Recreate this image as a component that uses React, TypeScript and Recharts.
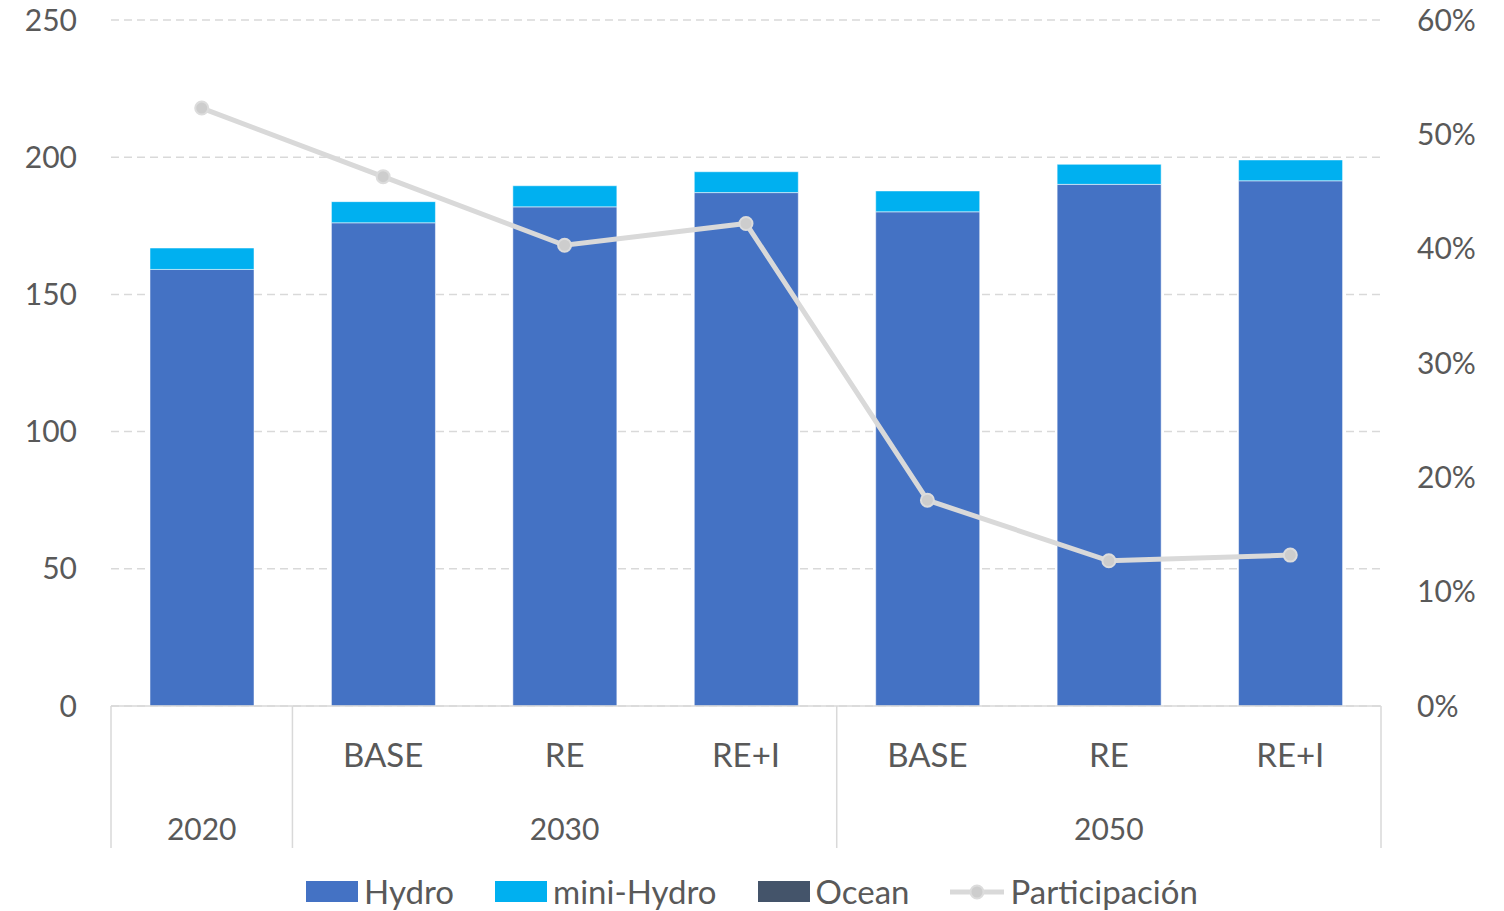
import React from 'react';
import { ComposedChart, Bar, Line, XAxis, YAxis, CartesianGrid, Legend } from 'recharts';

// Two-level category axis: year group + scenario
const years = ['2020', '2030', '2030', '2030', '2050', '2050', '2050'];
const scenarios = ['', 'BASE', 'RE', 'RE+I', 'BASE', 'RE', 'RE+I'];

// Stacked generation (left axis)
const hydro = [159.1, 176.1, 181.9, 187.1, 180.1, 190.1, 191.4];
const miniHydro = [7.8, 7.7, 7.7, 7.6, 7.6, 7.3, 7.6];
const ocean = [0, 0, 0, 0, 0, 0, 0];

// Share (right axis)
const participacion = [0.523, 0.463, 0.403, 0.422, 0.18, 0.127, 0.132];

const leftTicks = [0, 50, 100, 150, 200, 250];
const rightTicks = [0, 0.1, 0.2, 0.3, 0.4, 0.5, 0.6];

const seriesNames = ['Hydro', 'mini-Hydro', 'Ocean', 'Participación'];

const data = years.map((year, i) => ({
  key: `${year}-${scenarios[i] || 'hist'}`,
  hydro: hydro[i],
  miniHydro: miniHydro[i],
  ocean: ocean[i],
  participacion: participacion[i],
}));

const CHART_W = 1504;
const CHART_H = 911;
const LEFT_W = 111;
const RIGHT_W = 123;
const X_AXIS_H = 142;
const LEGEND_H = 63;
const BAND = (CHART_W - LEFT_W - RIGHT_W) / years.length;

const TEXT = '#595959';
const RULE = '#D9D9D9';

const groupBounds = (i: number) => {
  let s = i;
  while (s > 0 && years[s - 1] === years[i]) s--;
  let e = i;
  while (e < years.length - 1 && years[e + 1] === years[i]) e++;
  return [s, e];
};

const CategoryTick = (props: any) => {
  const { x, y, index } = props;
  const half = BAND / 2;
  const [s, e] = groupBounds(index);
  const isMid = index === Math.floor((s + e) / 2);
  return (
    <g>
      {index === s && (
        <line x1={x - half} x2={x - half} y1={y} y2={y + X_AXIS_H} stroke={RULE} strokeWidth={1.5} />
      )}
      {index === years.length - 1 && (
        <line x1={x + half} x2={x + half} y1={y} y2={y + X_AXIS_H} stroke={RULE} strokeWidth={1.5} />
      )}
      <text x={x} y={y + 48} textAnchor="middle" dominantBaseline="central" fill={TEXT} fontSize={33}>
        {scenarios[index]}
      </text>
      {isMid && (
        <text x={x} y={y + 122} textAnchor="middle" dominantBaseline="central" fill={TEXT} fontSize={30}>
          {years[index]}
        </text>
      )}
    </g>
  );
};

const LegendContent = (props: any) => {
  const payload = [...(props.payload || [])].sort(
    (a: any, b: any) => seriesNames.indexOf(a.value) - seriesNames.indexOf(b.value)
  );
  return (
    <div
      style={{
        height: LEGEND_H,
        boxSizing: 'border-box',
        paddingTop: 24,
        display: 'flex',
        justifyContent: 'center',
        alignItems: 'center',
      }}
    >
      {payload.map((entry: any, i: number) => (
        <div
          key={entry.value}
          style={{ display: 'flex', alignItems: 'center', marginRight: i < payload.length - 1 ? 41 : 0 }}
        >
          {entry.type === 'line' ? (
            <svg width={54} height={22} style={{ marginRight: 6 }}>
              <line x1={0} x2={54} y1={11} y2={11} stroke={RULE} strokeWidth={5} />
              <circle cx={27} cy={11} r={6.5} fill="#CDCDCD" stroke="#DCDCDC" strokeWidth={2} />
            </svg>
          ) : (
            <div style={{ width: 52, height: 21, background: entry.color, marginRight: 6 }} />
          )}
          <span style={{ color: TEXT, fontSize: 33, lineHeight: '39px' }}>{entry.value}</span>
        </div>
      ))}
    </div>
  );
};

const App = () => {
  return (
    <div style={{ position: 'absolute', left: 0, top: 0, fontFamily: 'Lato, sans-serif', background: '#fff' }}>
      <ComposedChart
        width={CHART_W}
        height={CHART_H}
        data={data}
        margin={{ top: 20, right: 0, bottom: 0, left: 0 }}
        barSize={104}
      >
        <CartesianGrid vertical={false} stroke={RULE} strokeDasharray="8 5" strokeWidth={1.5} />
        <XAxis
          dataKey="key"
          height={X_AXIS_H}
          interval={0}
          tickSize={0}
          tickMargin={0}
          axisLine={{ stroke: RULE, strokeWidth: 1.5 }}
          tickLine={false}
          tick={<CategoryTick />}
        />
        <YAxis
          width={LEFT_W}
          domain={[0, 250]}
          ticks={leftTicks}
          axisLine={false}
          tickLine={false}
          tickSize={0}
          tickMargin={34}
          tick={{ fill: TEXT, fontSize: 30 }}
        />
        <YAxis
          yAxisId="right"
          orientation="right"
          width={RIGHT_W}
          domain={[0, 0.6]}
          ticks={rightTicks}
          axisLine={false}
          tickLine={false}
          tickSize={0}
          tickMargin={36}
          tick={{ fill: TEXT, fontSize: 30 }}
          tickFormatter={(v: number) => `${Math.round(v * 100)}%`}
        />
        <Legend verticalAlign="bottom" content={<LegendContent />} />
        <Bar dataKey="hydro" name="Hydro" stackId="gen" fill="#4472C4" stroke="#ffffff" strokeWidth={0.5} legendType="rect" isAnimationActive={false} />
        <Bar dataKey="miniHydro" name="mini-Hydro" stackId="gen" fill="#00B0F0" stroke="#ffffff" strokeWidth={0.5} legendType="rect" isAnimationActive={false} />
        <Bar dataKey="ocean" name="Ocean" stackId="gen" fill="#44546A" legendType="rect" isAnimationActive={false} />
        <Line
          yAxisId="right"
          type="linear"
          dataKey="participacion"
          name="Participación"
          stroke={RULE}
          strokeWidth={5}
          dot={{ r: 6.5, fill: '#CDCDCD', stroke: '#DCDCDC', strokeWidth: 2 }}
          activeDot={false}
          legendType="line"
          isAnimationActive={false}
        />
      </ComposedChart>
    </div>
  );
};

export default App;
